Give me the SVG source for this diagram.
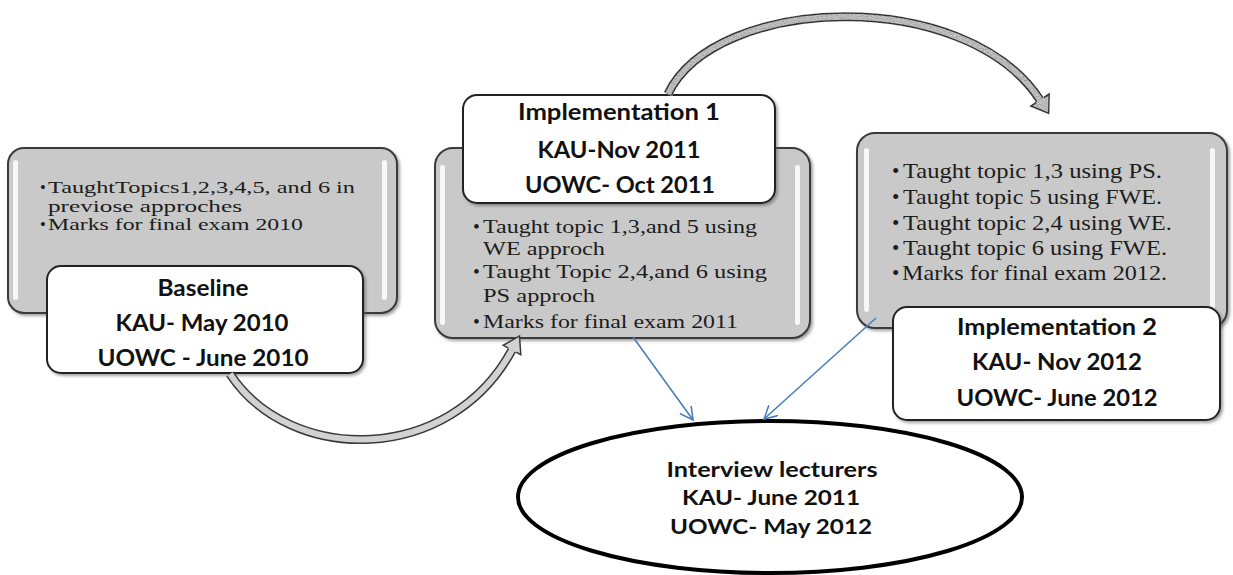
<svg xmlns="http://www.w3.org/2000/svg" width="1233" height="575" viewBox="0 0 1233 575">
  <defs>
    <style>
      .panel { fill: #c9c9c9; stroke: #3a3a3a; stroke-width: 2; }
      .label { fill: #ffffff; stroke: #222222; stroke-width: 2; }
      .shine { fill: #ffffff; opacity: 0.85; }
      .body { font-family: "Liberation Serif", "Times New Roman", serif; font-size: 21px; fill: #1c1c1c; }
      .body.tight { font-size: 16.5px; }
      .body.mid { font-size: 19.5px; }
      .title { font-family: Lato, "Open Sans", "Liberation Sans", sans-serif; font-weight: bold; font-size: 22px; fill: #111111; text-anchor: middle; }
      .oval-text { font-family: Lato, "Open Sans", "Liberation Sans", sans-serif; font-weight: bold; font-size: 20px; fill: #111111; text-anchor: middle; }
      .flow-outer { fill: none; stroke: #3a3a3a; stroke-width: 9; }
      .flow-inner { fill: none; stroke: #d2d2d2; stroke-width: 6; }
      .flow-head { fill: #d2d2d2; stroke: #3a3a3a; stroke-width: 1.5; stroke-linejoin: miter; }
      .link { fill: none; stroke: #4a7ebb; stroke-width: 1.6; marker-end: url(#open-arrow); }
    </style>
    <marker id="open-arrow" markerUnits="userSpaceOnUse" markerWidth="16" markerHeight="16" refX="13" refY="7" orient="auto">
      <path d="M0,0 L13,7 L0,14" fill="none" stroke="#4a7ebb" stroke-width="1.6"/>
    </marker>
    <filter id="shadow" x="-5%" y="-5%" width="115%" height="120%">
      <feDropShadow dx="2" dy="2" stdDeviation="1.5" flood-color="#555555" flood-opacity="0.55"/>
    </filter>
    <filter id="grain" x="-5%" y="-10%" width="110%" height="130%">
      <feTurbulence type="fractalNoise" baseFrequency="0.85" numOctaves="2" seed="4" result="noise"/>
      <feColorMatrix in="noise" type="matrix" values="0.5 0.5 0.5 0 0  0.5 0.5 0.5 0 0  0.5 0.5 0.5 0 0  0 0 0 0 1" result="gray"/>
      <feComposite in="gray" in2="SourceGraphic" operator="in" result="speck"/>
      <feBlend in="SourceGraphic" in2="speck" mode="multiply"/>
    </filter>
  </defs>

  <rect width="1233" height="575" fill="#ffffff"/>

  <!-- Stage 1: baseline -->
  <g id="baseline">
    <rect class="panel" x="8" y="148" width="389" height="165" rx="16" filter="url(#shadow)"/>
    <rect class="shine" x="13" y="160" width="5" height="140" rx="2.5"/>
    <rect class="shine" x="382" y="160" width="5" height="140" rx="2.5"/>
    <text class="body tight" x="40" y="193">•</text>
    <text class="body tight" x="48" y="193" textLength="307" lengthAdjust="spacingAndGlyphs">TaughtTopics1,2,3,4,5, and 6 in</text>
    <text class="body tight" x="48" y="211.5" textLength="194" lengthAdjust="spacingAndGlyphs">previose approches</text>
    <text class="body tight" x="40" y="230">•</text>
    <text class="body tight" x="48" y="230" textLength="255" lengthAdjust="spacingAndGlyphs">Marks for final exam 2010</text>
    <rect class="label" x="47" y="266" width="316" height="107" rx="14" filter="url(#shadow)"/>
    <text class="title" x="203" y="296" textLength="91" lengthAdjust="spacingAndGlyphs">Baseline</text>
    <text class="title" x="202" y="331" textLength="173" lengthAdjust="spacingAndGlyphs">KAU- May 2010</text>
    <text class="title" x="203" y="366" textLength="211" lengthAdjust="spacingAndGlyphs">UOWC - June 2010</text>
  </g>

  <!-- Stage 2: first implementation -->
  <g id="implementation-1">
    <rect class="panel" x="435" y="148" width="375" height="190" rx="18" filter="url(#shadow)"/>
    <rect class="shine" x="440" y="165" width="5" height="160" rx="2.5"/>
    <rect class="shine" x="795" y="165" width="5" height="160" rx="2.5"/>
    <rect class="label" x="463" y="95" width="312" height="108" rx="14" filter="url(#shadow)"/>
    <text class="title" x="619" y="120" textLength="202" lengthAdjust="spacingAndGlyphs">Implementation 1</text>
    <text class="title" x="619" y="158" textLength="163" lengthAdjust="spacingAndGlyphs">KAU-Nov 2011</text>
    <text class="title" x="620" y="193" textLength="190" lengthAdjust="spacingAndGlyphs">UOWC- Oct 2011</text>
    <text class="body mid" x="473" y="233">•</text>
    <text class="body mid" x="483" y="233" textLength="274" lengthAdjust="spacingAndGlyphs">Taught topic 1,3,and 5 using</text>
    <text class="body mid" x="483" y="255" textLength="122" lengthAdjust="spacingAndGlyphs">WE approch</text>
    <text class="body mid" x="473" y="278">•</text>
    <text class="body mid" x="483" y="278" textLength="284" lengthAdjust="spacingAndGlyphs">Taught Topic 2,4,and 6 using</text>
    <text class="body mid" x="483" y="302" textLength="112" lengthAdjust="spacingAndGlyphs">PS approch</text>
    <text class="body mid" x="473" y="328">•</text>
    <text class="body mid" x="483" y="328" textLength="255" lengthAdjust="spacingAndGlyphs">Marks for final exam 2011</text>
  </g>

  <!-- Stage 3: second implementation -->
  <g id="implementation-2">
    <rect class="panel" x="857" y="133" width="370" height="195" rx="18" filter="url(#shadow)"/>
    <rect class="shine" x="864" y="148" width="5" height="164" rx="2.5"/>
    <rect class="shine" x="1210" y="148" width="5" height="164" rx="2.5"/>
    <text class="body" x="892" y="178">•</text>
    <text class="body" x="903" y="178" textLength="259" lengthAdjust="spacingAndGlyphs">Taught topic 1,3 using PS.</text>
    <text class="body" x="892" y="204">•</text>
    <text class="body" x="903" y="204" textLength="259" lengthAdjust="spacingAndGlyphs">Taught topic 5 using FWE.</text>
    <text class="body" x="892" y="230">•</text>
    <text class="body" x="903" y="230" textLength="269" lengthAdjust="spacingAndGlyphs">Taught topic 2,4 using WE.</text>
    <text class="body" x="892" y="255">•</text>
    <text class="body" x="903" y="255" textLength="264" lengthAdjust="spacingAndGlyphs">Taught topic 6 using FWE.</text>
    <text class="body" x="892" y="280">•</text>
    <text class="body" x="902" y="280" textLength="265" lengthAdjust="spacingAndGlyphs">Marks for final exam 2012.</text>
    <rect class="label" x="893" y="307" width="327" height="113" rx="14" filter="url(#shadow)"/>
    <text class="title" x="1057" y="335" textLength="200" lengthAdjust="spacingAndGlyphs">Implementation 2</text>
    <text class="title" x="1057" y="370" textLength="170" lengthAdjust="spacingAndGlyphs">KAU- Nov 2012</text>
    <text class="title" x="1057" y="406" textLength="201" lengthAdjust="spacingAndGlyphs">UOWC- June 2012</text>
  </g>

  <!-- Interviews -->
  <g id="interviews">
    <ellipse cx="770" cy="497" rx="252" ry="76" fill="#ffffff" stroke="#000000" stroke-width="4"/>
    <text class="oval-text" x="772" y="477" textLength="211" lengthAdjust="spacingAndGlyphs">Interview lecturers</text>
    <text class="oval-text" x="771" y="505" textLength="178" lengthAdjust="spacingAndGlyphs">KAU- June 2011</text>
    <text class="oval-text" x="771" y="534" textLength="202" lengthAdjust="spacingAndGlyphs">UOWC- May 2012</text>
  </g>

  <!-- Connectors -->
  <g id="connectors">
    <!-- baseline to implementation 1 -->
    <g id="flow-1">
      <path class="flow-outer" d="M230,374 C290,465 450,465 512,350"/>
      <path class="flow-inner" d="M230,374 C290,465 450,465 512,350"/>
      <path class="flow-head" d="M508.0,347.9 L503.2,345.3 L519.5,335.9 L520.8,354.7 L516.0,352.1"/>
    </g>
    <!-- implementation 1 to implementation 2 -->
    <g id="flow-2" filter="url(#grain)">
      <path class="flow-outer" d="M668,94 C715,-5 965,-15 1040,100"/>
      <path class="flow-inner" d="M668,94 C715,-5 965,-15 1040,100"/>
      <path class="flow-head" d="M1043.8,97.5 L1049.2,94.0 L1048.7,113.4 L1030.8,106.0 L1036.2,102.5"/>
    </g>
    <line class="link" x1="633" y1="337" x2="693" y2="420"/>
    <line class="link" x1="876" y1="318" x2="764" y2="419"/>
  </g>
</svg>
